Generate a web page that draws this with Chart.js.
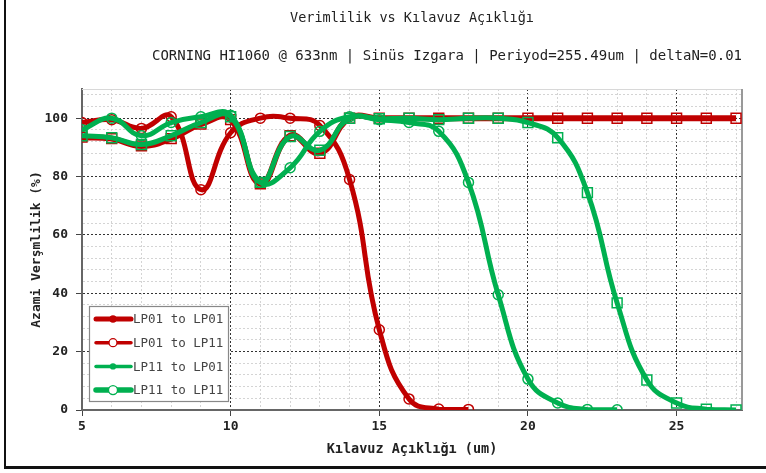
<!DOCTYPE html>
<html>
<head>
<meta charset="utf-8">
<script src="https://cdn.jsdelivr.net/npm/chart.js@4"></script>
<style>
  html, body { margin: 0; padding: 0; background: #fff; }
  #wrap { position: relative; width: 766px; height: 473px; }
  #frameL { position: absolute; left: 4px; top: 0; width: 2px; height: 469px; background: #111; }
  #frameB { position: absolute; left: 4px; top: 466px; width: 762px; height: 3px; background: #111; }
</style>
</head>
<body>
<div id="wrap">
  <canvas id="myChart" width="766" height="473"></canvas>
  <div id="frameL"></div>
  <div id="frameB"></div>
</div>
<script>
// guide gap in um
const gapUm = [5, 6, 7, 8, 9, 10, 11, 12, 13, 14, 15, 16, 17, 18, 19, 20, 21, 22, 23, 24, 25, 26, 27];

// max efficiency (%) per mode pair
const lp01ToLp01 = [98.5, 99.5, 96.5, 100.5, 75.5, 95, 100, 100, 97.5, 79, 27.5, 3.8, 0.3, 0.2];
const lp01ToLp11 = [93.5, 93, 90.5, 93, 98, 99.5, 77.5, 94, 88, 100, 100, 100, 100, 100, 100, 100, 100, 100, 100, 100, 100, 100, 100];
const lp11ToLp01 = [96, 100, 94, 98.5, 100.5, 101, 78, 83, 95.5, 100.5, 99.5, 98.5, 95.5, 78, 39.5, 10.6, 2.4, 0.2, 0.1];
const lp11ToLp11 = [94, 93.3, 91, 94, 98.5, 100.5, 78, 93.7, 89, 100, 99.8, 100, 99.5, 100, 100, 98.5, 93.3, 74.5, 36.7, 10.3, 2.4, 0.3, 0];

const xTickLabels = [5, 10, 15, 20, 25];
const yTickLabels = [0, 20, 40, 60, 80, 100];

const RED = '#c00000';
const GREEN = '#00b050';

Chart.defaults.font.family = "'DejaVu Sans Mono', monospace";
Chart.defaults.color = '#222';

function pts(vals) {
  return vals.map((v, i) => ({ x: gapUm[i], y: v }));
}

// legend sample styles, one row per dataset
const legendRows = [
  { lineWidth: 5, r: 3, fill: true },
  { lineWidth: 3.5, r: 4, fill: false },
  { lineWidth: 3.5, r: 2.5, fill: true },
  { lineWidth: 5.5, r: 4.5, fill: false }
];

const plotFrame = {
  id: 'plotFrame',
  beforeDatasetsDraw(chart) {
    const { ctx, chartArea: a } = chart;
    ctx.save();
    ctx.strokeStyle = '#d8d8d8';
    ctx.lineWidth = 1;
    ctx.beginPath();
    ctx.moveTo(a.left, a.top + 0.5);
    ctx.lineTo(a.right, a.top + 0.5);
    ctx.stroke();
    ctx.strokeStyle = '#999';
    ctx.lineWidth = 2;
    ctx.beginPath();
    ctx.moveTo(a.right, a.top);
    ctx.lineTo(a.right, a.bottom);
    ctx.stroke();
    ctx.restore();
  }
};

const boxLegend = {
  id: 'boxLegend',
  afterDatasetsDraw(chart) {
    const { ctx } = chart;
    ctx.save();
    ctx.fillStyle = '#fff';
    ctx.fillRect(89.5, 306.5, 139, 95);
    ctx.strokeStyle = '#888';
    ctx.lineWidth = 1.2;
    ctx.strokeRect(89.5, 306.5, 139, 95);
    ctx.font = "12.5px 'DejaVu Sans Mono', monospace";
    ctx.textBaseline = 'middle';
    chart.data.datasets.forEach((ds, i) => {
      const y = 319 + i * 23.7;
      const s = legendRows[i];
      ctx.strokeStyle = ds.borderColor;
      ctx.lineWidth = s.lineWidth;
      ctx.lineCap = 'round';
      ctx.beginPath();
      ctx.moveTo(96, y);
      ctx.lineTo(131, y);
      ctx.stroke();
      ctx.beginPath();
      ctx.arc(113, y, s.r, 0, Math.PI * 2);
      ctx.lineWidth = 1.3;
      ctx.fillStyle = s.fill ? ds.borderColor : '#fff';
      ctx.fill();
      ctx.stroke();
      ctx.fillStyle = '#444';
      ctx.fillText(ds.label, 133, y + 1);
    });
    ctx.restore();
  }
};

const ctx = document.getElementById('myChart').getContext('2d');
new Chart(ctx, {
  type: 'line',
  data: {
    datasets: [
      {
        label: 'LP01 to LP01',
        data: pts(lp01ToLp01),
        borderColor: RED,
        borderWidth: 5,
        pointStyle: 'circle',
        pointRadius: 5,
        pointBorderWidth: 1.5,
        pointBackgroundColor: 'rgba(255,255,255,0)',
        pointBorderColor: RED,
        order: 1
      },
      {
        label: 'LP01 to LP11',
        data: pts(lp01ToLp11),
        borderColor: RED,
        borderWidth: 6,
        pointStyle: 'rect',
        pointRadius: 7,
        pointBorderWidth: 1.5,
        pointBackgroundColor: 'rgba(255,255,255,0)',
        pointBorderColor: RED,
        order: 2
      },
      {
        label: 'LP11 to LP01',
        data: pts(lp11ToLp01),
        borderColor: GREEN,
        borderWidth: 5,
        pointStyle: 'circle',
        pointRadius: 5,
        pointBorderWidth: 1.5,
        pointBackgroundColor: 'rgba(255,255,255,0)',
        pointBorderColor: GREEN,
        order: 0
      },
      {
        label: 'LP11 to LP11',
        data: pts(lp11ToLp11),
        borderColor: GREEN,
        borderWidth: 5,
        pointStyle: 'rect',
        pointRadius: 7,
        pointBorderWidth: 1.5,
        pointBackgroundColor: 'rgba(255,255,255,0)',
        pointBorderColor: GREEN,
        order: 0
      }
    ]
  },
  options: {
    responsive: false,
    animation: false,
    layout: { padding: { left: 0, right: 24, top: 0, bottom: 0 } },
    elements: { line: { tension: 0.45 } },
    plugins: {
      legend: { display: false },
      tooltip: { enabled: false },
      title: {
        display: true,
        text: 'Verimlilik vs Kılavuz Açıklığı',
        fullSize: false,
        color: '#222',
        font: { size: 13.5, weight: 'normal', lineHeight: 1.2 },
        padding: { top: 10, bottom: 11 }
      },
      subtitle: {
        display: true,
        text: 'CORNING HI1060 @ 633nm | Sinüs Izgara | Periyod=255.49um | deltaN=0.01',
        fullSize: false,
        align: 'end',
        color: '#222',
        font: { size: 14, weight: 'normal', lineHeight: 1.2 },
        padding: { top: 10.4, bottom: 24.6 }
      }
    },
    scales: {
      x: {
        type: 'linear',
        min: 5,
        max: 27.2,
        afterBuildTicks: (axis) => { axis.ticks = gapUm.map(v => ({ value: v })); },
        afterFit: (scale) => { scale.height = 63; },
        ticks: {
          autoSkip: false,
          maxRotation: 0,
          padding: 3,
          color: '#222',
          font: { size: 13, weight: 'bold' },
          callback: (v) => xTickLabels.includes(v) ? String(v) : ''
        },
        grid: {
          color: (c) => c.tick && c.tick.value % 5 === 0 ? '#333' : '#d4d4d4',
          tickColor: (c) => c.tick && c.tick.value % 5 === 0 ? '#444' : 'rgba(0,0,0,0)',
          tickLength: 6,
          lineWidth: 1
        },
        border: { display: true, color: '#666', width: 2, dash: [2, 2] },
        title: {
          display: true,
          text: 'Kılavuz Açıklığı (um)',
          color: '#222',
          font: { size: 13.5, weight: 'bold', lineHeight: 1.2 },
          padding: { top: 0, bottom: 15 }
        }
      },
      y: {
        type: 'linear',
        min: 0,
        max: 110,
        afterBuildTicks: (axis) => {
          const t = [];
          for (let v = 0; v <= 108; v += 4) t.push({ value: v });
          axis.ticks = t;
        },
        afterFit: (scale) => { scale.width = 82; },
        ticks: {
          autoSkip: false,
          padding: 8,
          color: '#222',
          font: { size: 13, weight: 'bold' },
          callback: (v) => yTickLabels.includes(v) ? String(v) : ''
        },
        grid: {
          color: (c) => c.tick && c.tick.value % 20 === 0 ? '#333' : '#d4d4d4',
          tickColor: (c) => c.tick && c.tick.value % 20 === 0 ? '#444' : 'rgba(0,0,0,0)',
          tickLength: 6,
          lineWidth: 1
        },
        border: { display: true, color: '#666', width: 2, dash: [2, 2] },
        title: {
          display: true,
          text: 'Azami Verşmlilik (%)',
          color: '#222',
          font: { size: 13, weight: 'bold', lineHeight: 1.2 },
          padding: { top: 29, bottom: 0 }
        }
      }
    }
  },
  plugins: [plotFrame, boxLegend]
});
</script>
</body>
</html>
